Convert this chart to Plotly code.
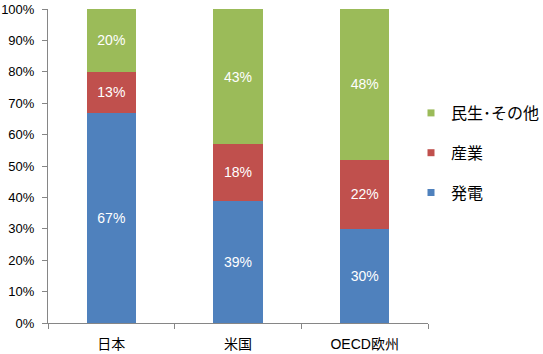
import plotly.graph_objects as go

categories = ["日本", "米国", "OECD欧州"]
hatsuden = [67, 39, 30]
sangyo = [13, 18, 22]
minsei = [20, 43, 48]

series = [
    ("発電", hatsuden, "#4F81BD"),
    ("産業", sangyo, "#C0504D"),
    ("民生･その他", minsei, "#9BBB59"),
]

font_family = "Liberation Sans, Arial, Noto Sans CJK JP"

fig = go.Figure()
for i, (name, vals, color) in enumerate(series):
    fig.add_trace(go.Bar(
        x=categories, y=vals, name=name,
        marker=dict(color=color, line=dict(width=0)),
        text=[f"{v}%" for v in vals], textposition="inside",
        insidetextanchor="middle", textangle=0,
        textfont=dict(color="white", size=14, family=font_family),
        width=0.39, showlegend=False,
    ))
# legend entries with small square markers
for i, (name, vals, color) in reversed(list(enumerate(series))):
    fig.add_trace(go.Scatter(
        x=[None], y=[None], mode="markers", name=name,
        marker=dict(symbol="square", size=7, color=color),
        legendgroup=f"g{i}", showlegend=True,
    ))

fig.update_layout(
    width=543, height=354,
    margin=dict(l=48, r=115, t=9, b=31, autoexpand=False),
    barmode="stack",
    plot_bgcolor="white", paper_bgcolor="white",
    font=dict(family=font_family, size=13, color="#000000"),
    showlegend=True,
    legend=dict(
        xref="container", yref="container",
        x=411 / 543, xanchor="left", y=1 - 153 / 354, yanchor="middle",
        font=dict(size=16, family="Noto Sans CJK JP, Liberation Sans"),
        tracegroupgap=16, itemwidth=30,
        bgcolor="rgba(0,0,0,0)",
    ),
    uniformtext=dict(minsize=14, mode="show"),
)
fig.update_yaxes(
    range=[0, 100], dtick=10, ticksuffix="%",
    showgrid=False, zeroline=False, automargin=False,
    showline=True, linecolor="#868686", linewidth=1,
    ticks="outside", ticklen=5, tickcolor="#868686",
    ticklabelstandoff=5, ticklabeloverflow="allow",
    tickfont=dict(size=13, family=font_family),
)
fig.update_xaxes(
    showgrid=False, showline=True, linecolor="#868686", linewidth=1,
    ticks="outside", ticklen=5, tickcolor="#868686", automargin=False,
    tickson="boundaries", ticklabelstandoff=8, ticklabeloverflow="allow",
    tickfont=dict(size=14, family="Liberation Sans, Noto Sans CJK JP"),
)

fig.write_html("out.html")
